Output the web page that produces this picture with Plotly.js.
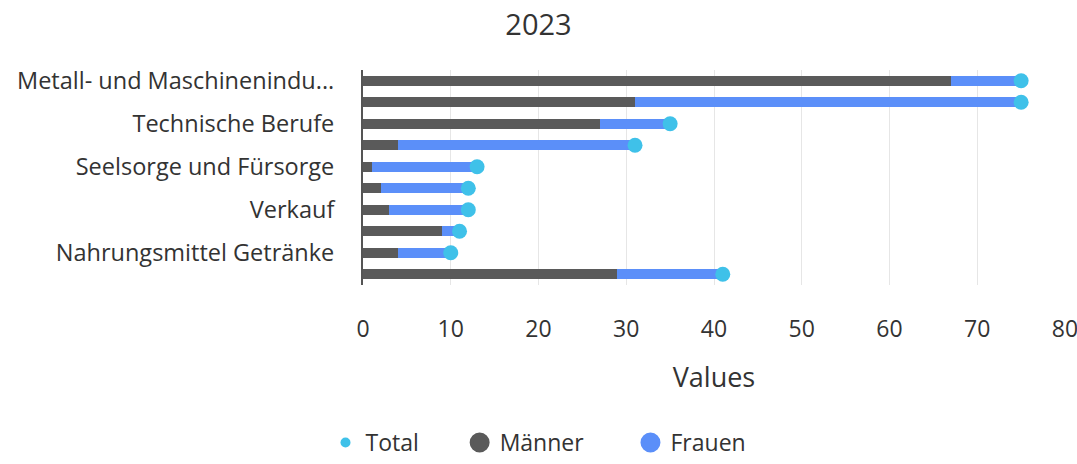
<!DOCTYPE html>
<html>
<head>
<meta charset="utf-8">
<script src="https://cdn.plot.ly/plotly-3.0.1.min.js"></script>
<style>
  html, body { margin: 0; padding: 0; background: #fff; }
  #chart { width: 1077px; height: 464px; }
</style>
</head>
<body>
<div id="chart"></div>
<script>
// ---------- Data ----------
const categories = [
  'Metall- und Maschinenindustrie',
  'Gesundheitswesen',
  'Technische Berufe',
  'Büro und Verwaltung',
  'Seelsorge und Fürsorge',
  'Reinigung und Hauswirtschaft',
  'Verkauf',
  'Verkehr',
  'Nahrungsmittel Getränke',
  'Übrige Berufe'
];
const maenner = [67, 31, 27, 4, 1, 2, 3, 9, 4, 29];
const frauen  = [8, 44, 8, 27, 12, 10, 9, 2, 6, 12];
const total   = [75, 75, 35, 31, 13, 12, 12, 11, 10, 41];
const xTicks  = [0, 10, 20, 30, 40, 50, 60, 70, 80];

// ---------- Style ----------
const FONT = 'Open Sans, sans-serif';
const TEXT = '#333333';
const C_M = '#5a5a5a';
const C_F = '#5b8ff9';
const C_T = '#3fc1e9';

function shortLabel(s){ return s.length > 27 ? s.slice(0, 25) + '...' : s; }
// legend names get some trailing room so the entries spread out like the reference
function pad(s, n){ return s + '\u00a0'.repeat(n); }
const shown = categories.filter((c, i) => i % 2 === 0);

const traces = [
  { type: 'bar', orientation: 'h', name: 'Männer', x: maenner, y: categories,
    marker: { color: C_M }, showlegend: false, hoverinfo: 'x+y' },
  { type: 'bar', orientation: 'h', name: 'Frauen', x: frauen, y: categories,
    marker: { color: C_F }, showlegend: false, hoverinfo: 'x+y' },
  { type: 'scatter', mode: 'markers', name: 'Total', x: total, y: categories,
    marker: { color: C_T, size: 15 }, showlegend: false, cliponaxis: false },
  // legend entries (circles, as in the reference)
  { type: 'scatter', mode: 'markers', name: pad('Total', 6), x: [null], y: [null],
    marker: { color: C_T, size: 10 } },
  { type: 'scatter', mode: 'markers', name: pad('Männer', 7), x: [null], y: [null],
    marker: { color: C_M, size: 16, line: { color: C_M, width: 4 } } },
  { type: 'scatter', mode: 'markers', name: 'Frauen', x: [null], y: [null],
    marker: { color: C_F, size: 16, line: { color: C_F, width: 4 } } }
];

const layout = {
  width: 1077, height: 464,
  paper_bgcolor: '#fff', plot_bgcolor: '#fff',
  font: { family: FONT, color: TEXT, size: 22 },
  title: { text: '2023', x: 0.5, xanchor: 'center', yref: 'container', y: 0.946, yanchor: 'middle',
           font: { size: 29, color: TEXT } },
  barmode: 'stack',
  bargap: 0.55,
  margin: { l: 363, r: 12, t: 70, b: 179 },
  xaxis: {
    range: [0, 80], tickvals: xTicks, showgrid: true, gridcolor: '#e6e6e6', gridwidth: 1,
    zeroline: false, showline: false, ticks: '', ticklabelstandoff: 28,
    ticklabeloverflow: 'allow',
    tickfont: { size: 23, color: TEXT },
    title: { text: 'Values', standoff: 25, font: { size: 27, color: TEXT } }
  },
  yaxis: {
    type: 'category', range: [9.5, -0.5],
    tickmode: 'array', tickvals: shown, ticktext: shown.map(shortLabel),
    showline: true, linecolor: '#555555', linewidth: 2,
    showgrid: false, zeroline: false, ticks: '', ticklabelstandoff: 22,
    tickfont: { size: 23.5, color: TEXT }
  },
  showlegend: true,
  legend: {
    orientation: 'h', x: 0.5, xanchor: 'center', xref: 'container',
    yref: 'container', y: 0, yanchor: 'bottom',
    font: { size: 23, color: TEXT }, itemsizing: 'trace', traceorder: 'normal'
  }
};

Plotly.newPlot('chart', traces, layout, { displayModeBar: false, staticPlot: true });
</script>
</body>
</html>
